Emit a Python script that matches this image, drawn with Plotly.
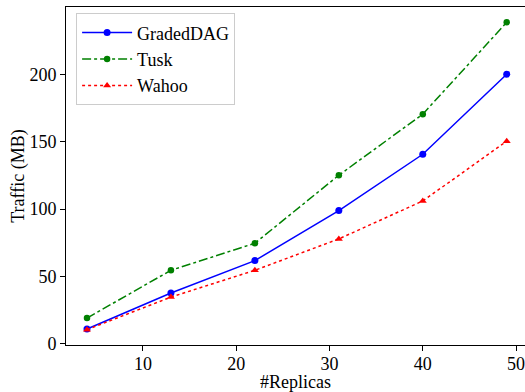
import plotly.graph_objects as go

replicas = [4, 13, 22, 31, 40, 49]
graded_dag = [10.9, 37.6, 61.7, 98.9, 140.7, 200.2]
tusk = [19.0, 54.5, 74.6, 125.1, 170.5, 238.7]
wahoo = [10.4, 34.6, 54.5, 77.8, 106.0, 150.4]
x_ticks = [10, 20, 30, 40, 50]
y_ticks = [0, 50, 100, 150, 200]

FONT = "Liberation Serif, Times New Roman, serif"

fig = go.Figure()
fig.add_trace(go.Scatter(
    x=replicas, y=graded_dag, name="GradedDAG", mode="lines+markers",
    line=dict(color="#0000ff", width=1.5, dash="solid"),
    marker=dict(symbol="circle", size=7, color="#0000ff")))
fig.add_trace(go.Scatter(
    x=replicas, y=tusk, name="Tusk", mode="lines+markers",
    line=dict(color="#008000", width=1.5, dash="dashdot"),
    marker=dict(symbol="circle", size=6.5, color="#008000")))
fig.add_trace(go.Scatter(
    x=replicas, y=wahoo, name="Wahoo", mode="lines+markers",
    line=dict(color="#ff0000", width=1.5, dash="dot"),
    marker=dict(symbol="triangle-up", size=7, color="#ff0000")))

fig.update_layout(
    width=525, height=392,
    margin=dict(l=66, r=0, t=7, b=47),
    paper_bgcolor="white", plot_bgcolor="white",
    font=dict(family=FONT, size=18, color="black"),
    showlegend=True,
    legend=dict(
        x=0.022, y=0.981, xanchor="left", yanchor="top",
        bgcolor="rgba(255,255,255,0.8)", bordercolor="#cccccc", borderwidth=1,
        font=dict(family=FONT, size=18, color="black"),
        itemwidth=50, tracegroupgap=0,
    ),
)
fig.update_xaxes(
    range=[1.75, 50.96], tickvals=x_ticks, ticktext=[str(v) for v in x_ticks],
    showgrid=False, zeroline=False, automargin=False,
    ticklabeloverflow="allow", ticklabelstandoff=-3,
    showline=True, linecolor="black", linewidth=1, mirror=True,
    ticks="outside", ticklen=5, tickcolor="black", tickwidth=1,
    title=dict(text="#Replicas", font=dict(family=FONT, size=18), standoff=0),
)
fig.update_yaxes(
    range=[-1.0, 250.1], tickvals=y_ticks, ticktext=[str(v) for v in y_ticks],
    showgrid=False, zeroline=False, automargin=False,
    ticklabeloverflow="allow",
    showline=True, linecolor="black", linewidth=1,
    ticks="outside", ticklen=5, tickcolor="black", tickwidth=1,
    title=dict(text="Traffic (MB)", font=dict(family=FONT, size=18), standoff=0),
)

fig.write_html(
    "out.html",
    config={"displayModeBar": False},
    post_script="document.body.style.margin='0';document.body.style.overflow='hidden';",
)
